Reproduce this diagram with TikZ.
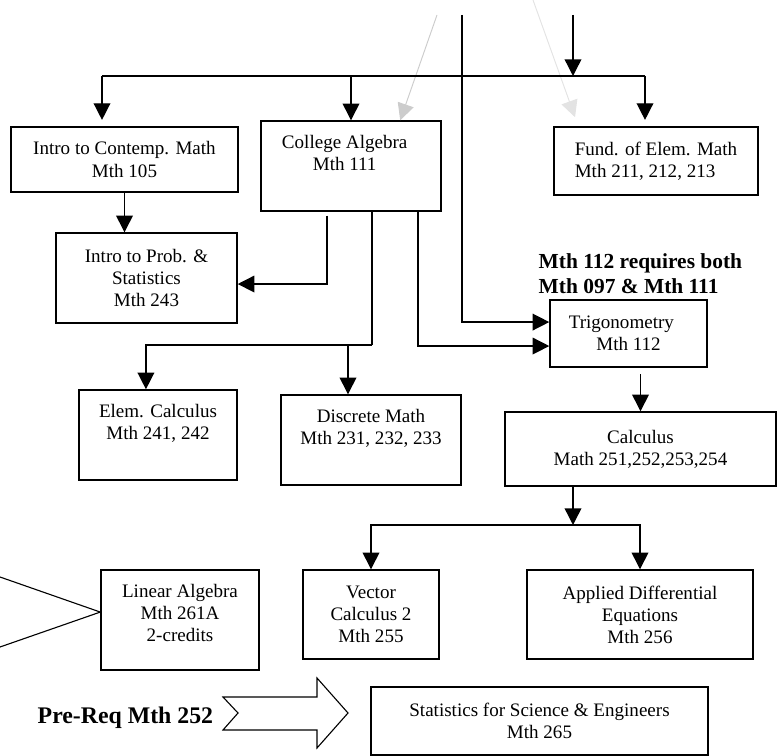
\documentclass[tikz,border=0pt]{standalone}
\usepackage{fontspec}
\setmainfont{Liberation Serif}
\usetikzlibrary{arrows.meta,positioning}
\newcommand{\pxu}{0.63pt}
\begin{document}
\begin{tikzpicture}[x=0.63pt, y=-0.63pt, line width=0.9pt,
      font=\fontsize{12}{13.9}\selectfont,
      B/.style 2 args={draw, rectangle, minimum width=#1*\pxu, minimum height=#2*\pxu, inner sep=0pt, align=center},
      T/.style={inner sep=0pt, align=center, anchor=north},
      A/.style={-{Triangle[length=10.5pt, width=10.5pt]}},
      G/.style={A, draw=#1, line width=0.6pt},
      N/.style={inner sep=0pt, align=left, font=\bfseries\fontsize{13.5}{15.75}\selectfont}
    ]
    \useasboundingbox (0,0) rectangle (778,756);
    % courses
    \node[B={227}{65}] (contemp) at (124.5,159.5) {Intro to Contemp. Math\\Mth 105};
    \node[B={180}{90}] (alg) at (351,166) {};
    \node[T, below=9pt of alg.north, xshift=-4pt] (algtxt) {College Algebra\\Mth 111};
    \node[B={204}{68}, align=left] (fund) at (656,161) {Fund. of Elem. Math\\Mth 211, 212, 213};
    \node[B={181}{90}] (prob) at (146.5,278) {Intro to Prob. \&\\Statistics\\Mth 243};
    \node[B={157}{67}] (trig) at (628.5,333.5) {Trigonometry\hspace*{9pt}\\Mth 112};
    \node[B={158}{90}] (elem) at (158,435) {};
    \node[T, below=9pt of elem.north] (elemtxt) {Elem. Calculus\\Mth 241, 242};
    \node[B={180}{90}] (disc) at (371,440) {};
    \node[T, below=9pt of disc.north] (disctxt) {Discrete Math\\Mth 231, 232, 233};
    \node[B={271}{74}] (calc) at (640.5,449) {Calculus\\Math 251,252,253,254};
    \node[B={158}{100}] (lin) at (180,620) {};
    \node[T, below=9pt of lin.north] (lintxt) {Linear Algebra\\Mth 261A\\2-credits};
    \node[B={136}{89}] (vec) at (371,614.5) {Vector\\Calculus 2\\Mth 255};
    \node[B={226}{89}] (ade) at (640,614.5) {Applied Differential\\Equations\\Mth 256};
    \node[B={337}{68}] (stats) at (539.5,721) {Statistics for Science \& Engineers\\Mth 265};
    % notes
    \node[N, anchor=north west] (req) at (538,253) {Mth 112 requires both\\Mth 097 \& Mth 111};
    \node[N, font=\bfseries\fontsize{15}{18}\selectfont, anchor=base west] (prereq) at (37,723) {Pre-Req Mth 252};
    % top connectors
    \coordinate (top1) at (462,15);
    \coordinate (top2) at (573,15);
    \coordinate (barL) at (102,76);
    \coordinate (barR) at (645,76);
    \coordinate (g1) at (437,15);
    \coordinate (g2) at (533,0);
    \draw[G=gray!40] (g1) -- ([xshift=31pt]alg.north);
    \draw[G=gray!22] (g2) -- ([xshift=-51pt, yshift=5.7pt]fund.north);
    \draw (barL) -- (barR);
    \draw[A] (top2) -- (top2 |- barL);
    \draw[A, shorten >=4pt] (barL) -- (barL |- contemp.north);
    \draw[A] (alg.north |- barL) -- (alg.north);
    \draw[A, shorten >=4pt] (barR) -- (barR |- fund.north);
    \draw[A] (top1) |- ([yshift=7.2pt]trig.west);
    % middle connectors
    \draw[A] (contemp.south) -- (contemp.south |- prob.north);
    \draw[A, shorten <=2.5pt] ([xshift=-15.1pt]alg.south) |- ([yshift=-3.8pt]prob.east);
    \coordinate (ab) at (372,345);
    \coordinate (ad) at (348,345);
    \draw (alg.south -| ab) -- (ab);
    \draw[A] (ab) -| ([xshift=-7.6pt]elem.north);
    \draw[A] (ad) -- (ad |- disc.north);
    \draw[A] ([xshift=42.2pt]alg.south) |- ([yshift=-7.9pt]trig.west);
    \draw[A, shorten <=4pt] (trig.south -| calc.north) -- (calc.north);
    % calculus branch
    \coordinate (cb) at (573,525);
    \draw[A] (calc.south -| cb) -- (cb);
    \draw[A] (cb) -| (vec.north);
    \draw[A] (cb) -| (ade.north);
    % block arrows
    \coordinate (la1) at (0,577);
    \coordinate (la2) at (0,647);
    \draw[line width=0.7pt] (la1) -- ([yshift=5pt]lin.west) -- (la2);
    \draw[line width=0.7pt] (223,697) -- (317,697) -- (317,678) -- (348,713) -- (317,748)
      -- (317,730) -- (223,730) -- (238,713) -- cycle;
  \end{tikzpicture}
\end{document}
